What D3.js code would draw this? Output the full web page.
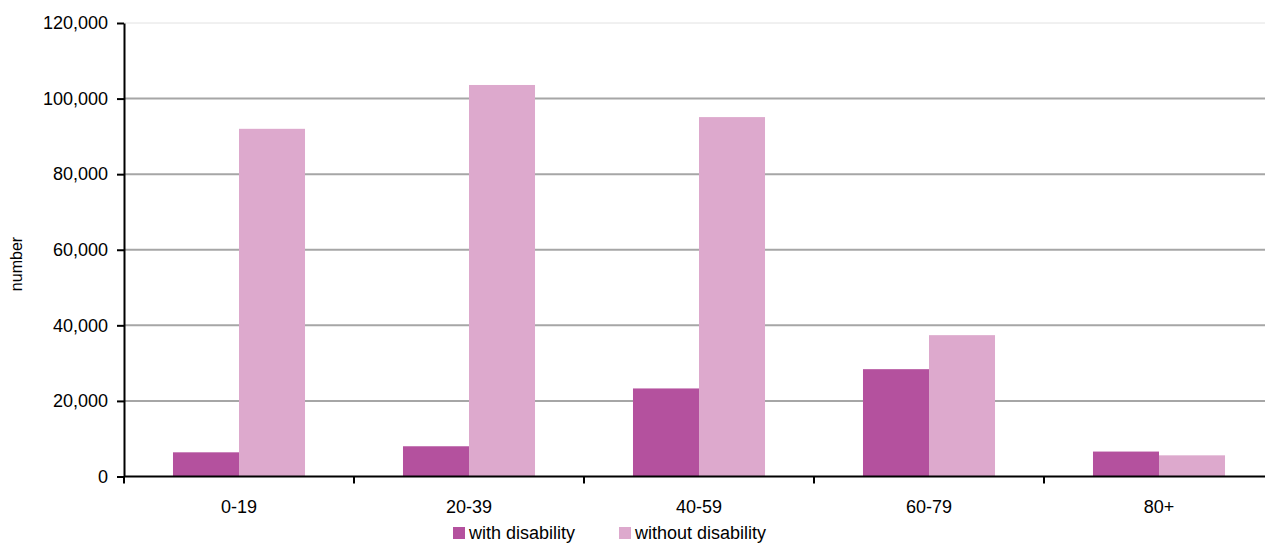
<!DOCTYPE html>
<html>
<head>
<meta charset="utf-8">
<script src="https://cdn.jsdelivr.net/npm/d3@7"></script>
<style>
  html, body { margin: 0; padding: 0; background: #fff; overflow: hidden; }
  svg { display: block; font-family: "Liberation Sans", Arial, sans-serif; }
</style>
</head>
<body>
<svg id="chart" width="1265" height="544"></svg>
<script>
// Age groups and counts of people with / without disability
const categories = ["0-19", "20-39", "40-59", "60-79", "80+"];
const seriesNames = ["with disability", "without disability"];
const withDisability = [6400, 8000, 23300, 28400, 6600];
const withoutDisability = [92000, 103600, 95100, 37400, 5600];
const yTicks = [0, 20000, 40000, 60000, 80000, 100000, 120000];
const colors = ["#b4519e", "#dda9cd"];

const svg = d3.select("#chart");
const plotLeft = 124, plotRight = 1274, plotTop = 23, plotBottom = 476.5;

const x0 = d3.scaleBand().domain(categories).range([plotLeft, plotRight]).padding(0);
const x1 = d3.scaleBand().domain(seriesNames).range([0, x0.bandwidth()])
  .paddingInner(0).paddingOuter(0.742);
const y = d3.scaleLinear().domain([0, 120000]).range([plotBottom, plotTop]);

// horizontal gridlines
svg.append("g").selectAll("line")
  .data(yTicks.filter(d => d > 0))
  .join("line")
  .attr("x1", plotLeft).attr("x2", plotRight)
  .attr("y1", d => y(d)).attr("y2", d => y(d))
  .attr("stroke", d => d === 120000 ? "#e2e2e2" : "#a6a6a6")
  .attr("stroke-width", d => d === 120000 ? 1 : 2);

// bars
const rows = categories.map((c, i) => ({ cat: c, vals: [withDisability[i], withoutDisability[i]] }));
svg.append("g").selectAll("g")
  .data(rows)
  .join("g")
  .attr("transform", d => `translate(${x0(d.cat)},0)`)
  .selectAll("rect")
  .data(d => d.vals.map((v, k) => ({ name: seriesNames[k], v, k })))
  .join("rect")
  .attr("x", d => x1(d.name))
  .attr("width", x1.bandwidth())
  .attr("y", d => y(d.v))
  .attr("height", d => y(0) - y(d.v))
  .attr("fill", d => colors[d.k]);

// y axis
const yAxis = svg.append("g")
  .attr("transform", `translate(${plotLeft},0)`)
  .call(d3.axisLeft(y).tickValues(yTicks).tickFormat(d3.format(",")).tickSizeInner(7).tickSizeOuter(0).tickPadding(9));
yAxis.select(".domain").attr("stroke", "#000").attr("stroke-width", 2);
yAxis.selectAll(".tick line").attr("stroke", "#000").attr("stroke-width", 2);
yAxis.selectAll("text").attr("font-size", 18).attr("fill", "#000")
  .attr("font-family", "Liberation Sans, Arial, sans-serif");

// x axis with ticks between categories
const xAxis = svg.append("g");
xAxis.append("line")
  .attr("x1", plotLeft).attr("x2", plotRight)
  .attr("y1", y(0)).attr("y2", y(0))
  .attr("stroke", "#000").attr("stroke-width", 2);
xAxis.selectAll("line.tick")
  .data(categories)
  .join("line")
  .attr("class", "tick")
  .attr("x1", d => x0(d)).attr("x2", d => x0(d))
  .attr("y1", y(0)).attr("y2", y(0) + 7)
  .attr("stroke", "#000").attr("stroke-width", 2);
xAxis.selectAll("text")
  .data(categories)
  .join("text")
  .attr("x", d => x0(d) + x0.bandwidth() / 2)
  .attr("y", 513)
  .attr("text-anchor", "middle")
  .attr("font-size", 18)
  .attr("fill", "#000")
  .text(d => d);

// y axis title
svg.append("text")
  .attr("transform", "translate(22,264) rotate(-90)")
  .attr("text-anchor", "middle")
  .attr("font-size", 16)
  .attr("fill", "#000")
  .text("number");

// legend
const legendX = [453, 619];
const legend = svg.append("g").selectAll("g")
  .data(seriesNames)
  .join("g")
  .attr("transform", (d, i) => `translate(${legendX[i]},527)`);
legend.append("rect").attr("width", 12).attr("height", 12).attr("fill", (d, i) => colors[i]);
legend.append("text")
  .attr("x", 16).attr("y", 12)
  .attr("font-size", 18)
  .attr("fill", "#000")
  .text(d => d);
</script>
</body>
</html>
